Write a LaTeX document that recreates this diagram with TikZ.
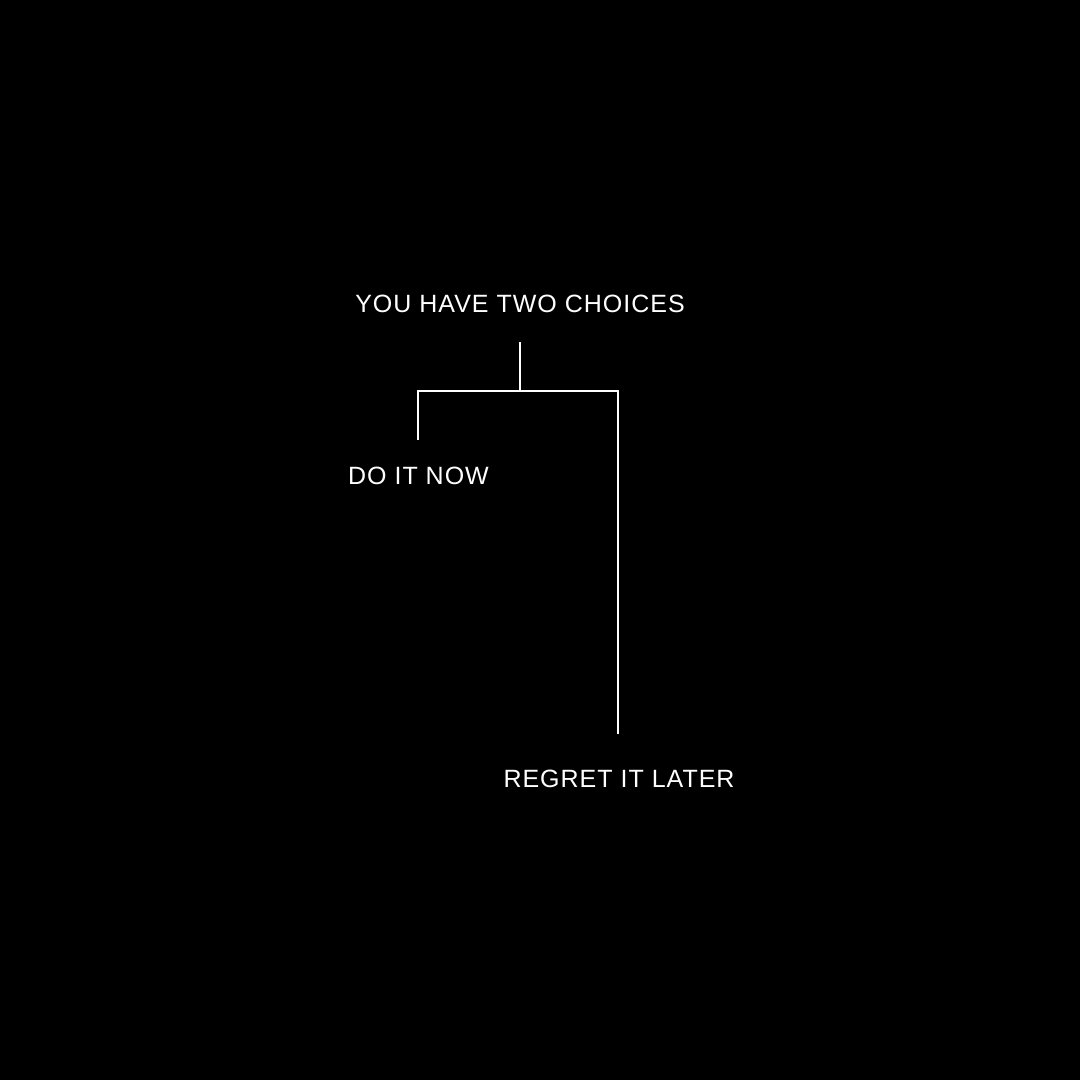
\documentclass[tikz,border=0pt]{standalone}
\usepackage{fontspec}
\setmainfont{Liberation Sans}[LetterSpace=4]
\begin{document}
\begin{tikzpicture}[x=1pt,y=-1pt,
  lbl/.style={text=white,inner sep=0pt,anchor=base,font=\fontsize{25}{30}\selectfont},
  conn/.style={draw=white,line width=2pt}]
\fill[black] (0,0) rectangle (1080,1080);
\useasboundingbox (0,0) rectangle (1080,1080);
\node[lbl] (title) at (520,312) {YOU HAVE TWO CHOICES};
\node[lbl] (now) at (418.5,484) {DO IT NOW};
\node[lbl] (later) at (619,787) {REGRET IT LATER};
\coordinate (ttop) at (520,342);
\coordinate (tjoin) at (520,391);
\coordinate (lcorner) at (418,391);
\coordinate (lend) at (418,440);
\coordinate (rcorner) at (618,391);
\coordinate (rend) at (618,734);
\draw[conn] (ttop) -- (tjoin);
\draw[conn] (lend) -- (lcorner) -- (rcorner) -- (rend);
\end{tikzpicture}
\end{document}
